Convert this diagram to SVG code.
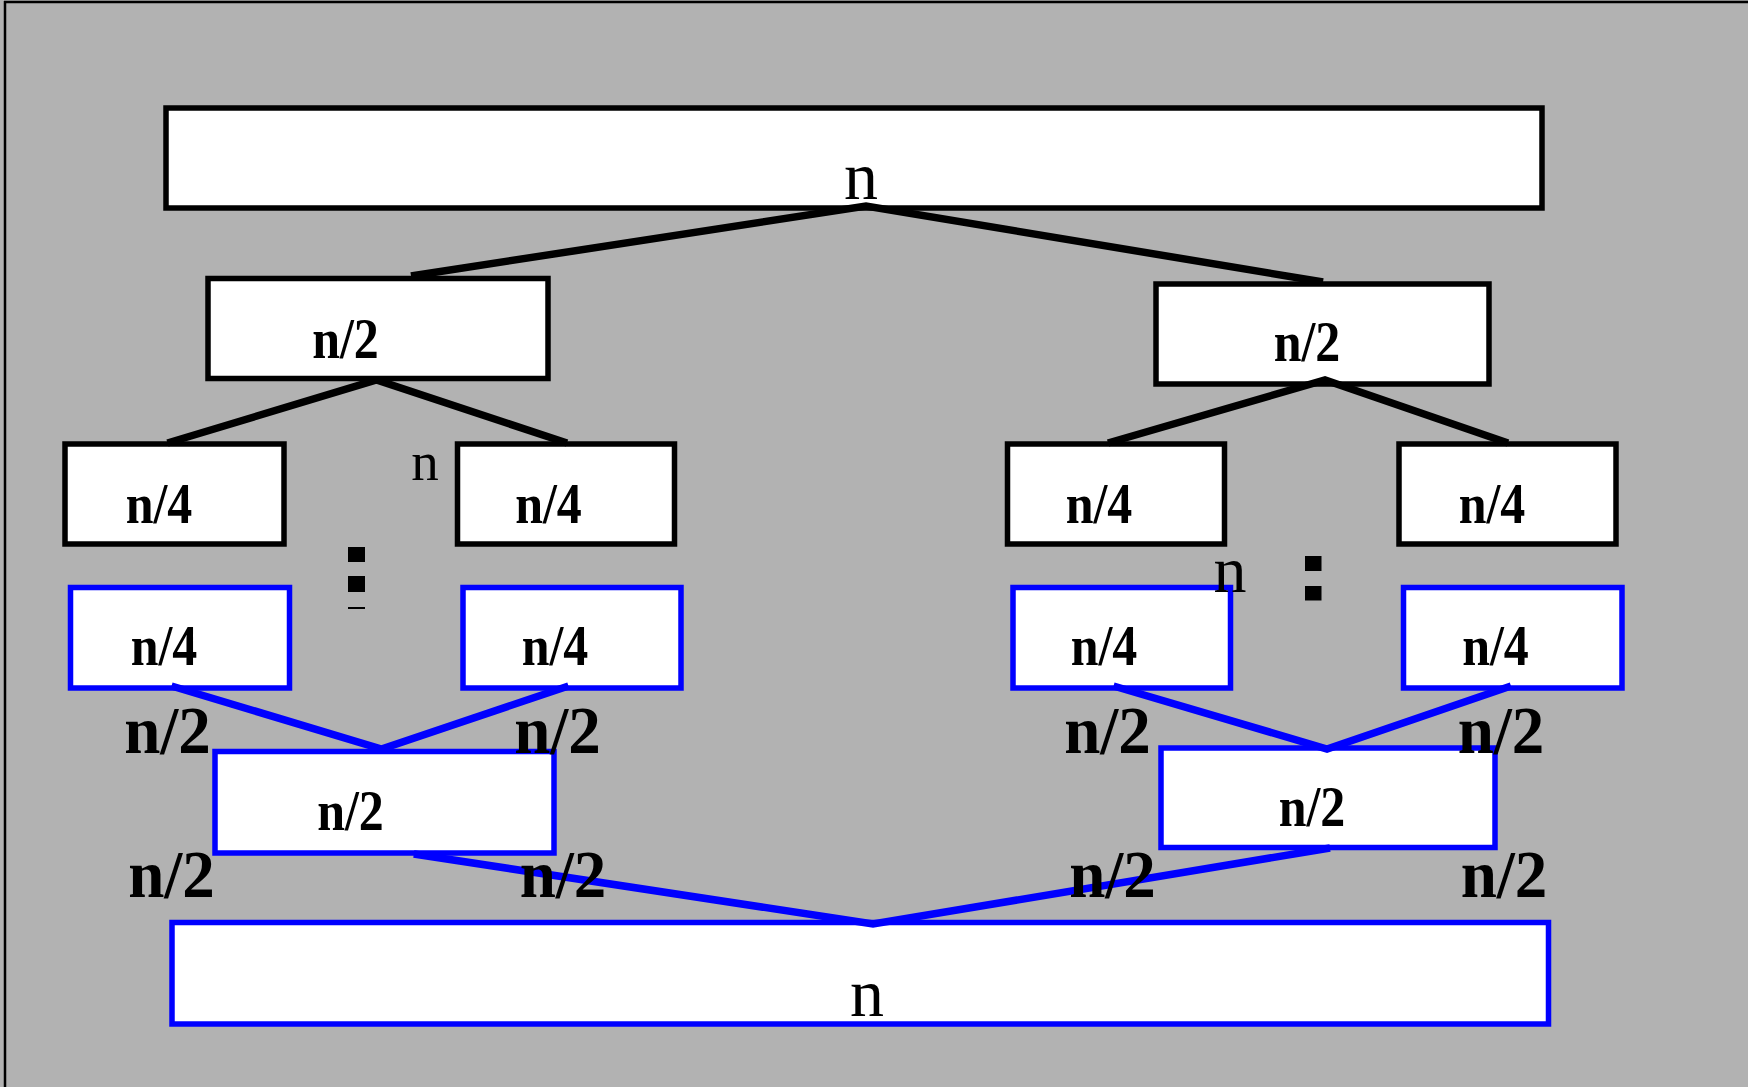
<svg xmlns="http://www.w3.org/2000/svg" width="1748" height="1087" viewBox="0 0 1748 1087">
  <style>
    .box { fill: #ffffff; stroke-width: 5.5; }
    .blk { stroke: #000000; }
    .blu { stroke: #0000ff; }
    .edge { fill: none; stroke-width: 7.5; stroke-linecap: butt; }
    .lbl { font-family: "Liberation Serif", "Times New Roman", serif; font-weight: bold; fill: #000000; text-anchor: middle; }
    .in { font-size: 50px; }
    .free { font-size: 65px; }
    .plain { font-family: "Liberation Serif", "Times New Roman", serif; fill: #000000; text-anchor: middle; }
  </style>

  <!-- page background and frame -->
  <rect x="0" y="0" width="1748" height="1087" fill="#b2b2b2"/>
  <line x1="4" y1="2" x2="1748" y2="2" stroke="#000" stroke-width="2.5"/>
  <line x1="5" y1="1" x2="5" y2="1087" stroke="#000" stroke-width="2.5"/>

  <!-- divide phase (black) -->
  <g id="root">
    <rect class="box blk" x="166" y="108" width="1376" height="100"/>
    <text class="plain" x="861" y="199" font-size="68">n</text>
  </g>
  <g id="half-left">
    <rect class="box blk" x="208" y="278.5" width="340" height="100"/>
    <text class="lbl in" transform="translate(345.5,358) scale(1,1.12)">n/2</text>
  </g>
  <g id="half-right">
    <rect class="box blk" x="1156" y="284" width="333" height="100"/>
    <text class="lbl in" transform="translate(1307,361) scale(1,1.12)">n/2</text>
  </g>
  <g id="quarter-1">
    <rect class="box blk" x="65" y="444" width="219" height="100"/>
    <text class="lbl in" transform="translate(159,523) scale(1,1.12)">n/4</text>
  </g>
  <g id="quarter-2">
    <rect class="box blk" x="457.5" y="444" width="217" height="100"/>
    <text class="lbl in" transform="translate(548.5,523) scale(1,1.12)">n/4</text>
  </g>
  <g id="quarter-3">
    <rect class="box blk" x="1007.5" y="444" width="217" height="100"/>
    <text class="lbl in" transform="translate(1099,523) scale(1,1.12)">n/4</text>
  </g>
  <g id="quarter-4">
    <rect class="box blk" x="1399" y="444" width="217" height="100"/>
    <text class="lbl in" transform="translate(1492,523) scale(1,1.12)">n/4</text>
  </g>

  <!-- merge phase (blue) -->
  <g id="merged-quarter-1">
    <rect class="box blu" x="70.5" y="587.5" width="219" height="100.5"/>
    <text class="lbl in" transform="translate(164,665) scale(1,1.12)">n/4</text>
  </g>
  <g id="merged-quarter-2">
    <rect class="box blu" x="463" y="587.5" width="218" height="100.5"/>
    <text class="lbl in" transform="translate(555,665) scale(1,1.12)">n/4</text>
  </g>
  <g id="merged-quarter-3">
    <rect class="box blu" x="1013" y="587.5" width="217.5" height="100.5"/>
    <text class="lbl in" transform="translate(1104,665) scale(1,1.12)">n/4</text>
  </g>
  <g id="merged-quarter-4">
    <rect class="box blu" x="1403.5" y="587.5" width="218.5" height="100.5"/>
    <text class="lbl in" transform="translate(1495.5,665) scale(1,1.12)">n/4</text>
  </g>
  <g id="merged-half-left">
    <rect class="box blu" x="215" y="751.5" width="339" height="101.5"/>
    <text class="lbl in" transform="translate(350.5,830) scale(1,1.12)">n/2</text>
  </g>
  <g id="merged-half-right">
    <rect class="box blu" x="1161" y="748" width="334" height="99.5"/>
    <text class="lbl in" transform="translate(1312,826) scale(1,1.12)">n/2</text>
  </g>
  <g id="merged-root">
    <rect class="box blu" x="172" y="922.5" width="1376.5" height="101.5"/>
    <text class="plain" x="867" y="1016" font-size="68">n</text>
  </g>

  <!-- ellipsis markers between levels -->
  <g id="ellipsis-left" fill="#000">
    <rect x="348" y="547" width="17" height="15"/>
    <rect x="348" y="576" width="17" height="16"/>
    <rect x="348" y="607" width="17" height="2"/>
  </g>
  <g id="ellipsis-right" fill="#000">
    <rect x="1305" y="556" width="16.5" height="15"/>
    <rect x="1305" y="586" width="16.5" height="14.5"/>
  </g>

  <!-- connectors -->
  <g id="connectors" class="edge">
    <polyline class="blk" points="411,276 866,206 1323,282"/>
    <polyline class="blk" points="167.5,443 376.5,380 567,443"/>
    <polyline class="blk" points="1108,443 1325,380 1508,443"/>
    <polyline class="blu" points="171.5,686 381.5,749 568.5,686"/>
    <polyline class="blu" points="1113.5,686 1327,749 1511,686"/>
    <polyline class="blu" points="413.8,854 873,924 1330,848"/>
  </g>

  <!-- size annotations on the merge edges -->
  <g id="edge-labels">
    <text class="lbl free" transform="translate(167.5,753) scale(1,1.05)">n/2</text>
    <text class="lbl free" transform="translate(557.5,753) scale(1,1.05)">n/2</text>
    <text class="lbl free" transform="translate(1107.5,753) scale(1,1.05)">n/2</text>
    <text class="lbl free" transform="translate(1501,753) scale(1,1.05)">n/2</text>
    <text class="lbl free" transform="translate(171.5,897) scale(1,1.05)">n/2</text>
    <text class="lbl free" transform="translate(563,897) scale(1,1.05)">n/2</text>
    <text class="lbl free" transform="translate(1112.5,897) scale(1,1.05)">n/2</text>
    <text class="lbl free" transform="translate(1504,897) scale(1,1.05)">n/2</text>
    <text class="plain" x="425" y="480" font-size="55">n</text>
    <text class="plain" x="1230" y="592" font-size="66">n</text>
  </g>
</svg>
